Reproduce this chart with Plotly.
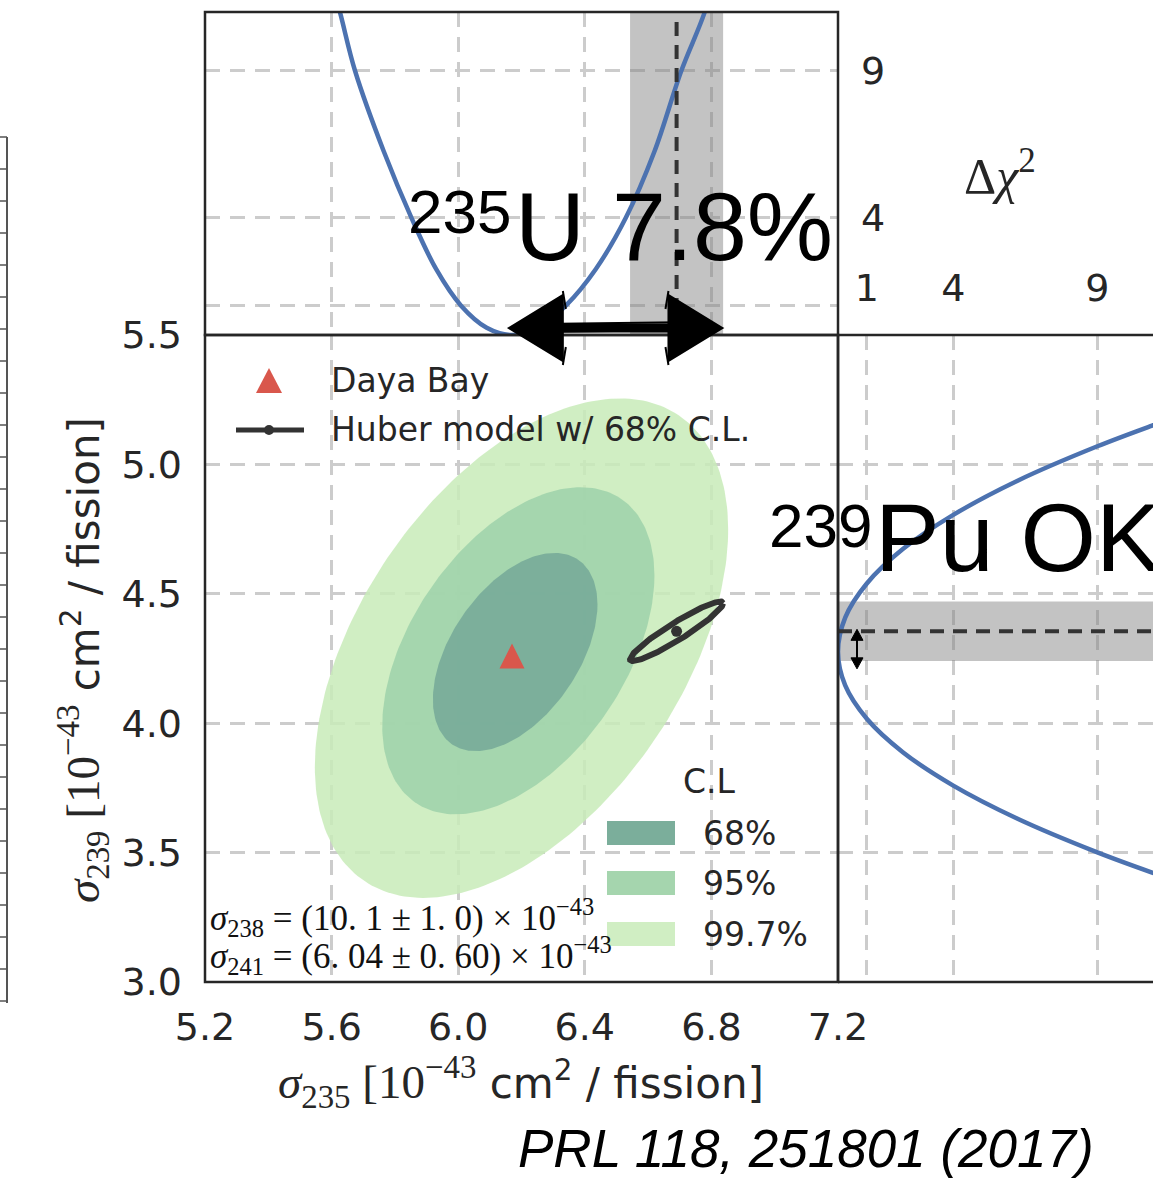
import numpy as np
import plotly.graph_objects as go

W, H = 1153, 1178

# ---------------- data (10^-43 cm^2 / fission) ----------------
# Daya Bay best fit
daya_bay_sigma235 = [6.17]
daya_bay_sigma239 = [4.26]

# Daya Bay confidence-level regions, each described as an ellipse
cl_labels = ["68%", "95%", "99.7%"]
cl_center235 = [6.18, 6.19, 6.20]
cl_center239 = [4.275, 4.28, 4.29]
cl_halfwidth235 = [0.26, 0.43, 0.653]
cl_halfwidth239 = [0.383, 0.632, 0.965]
cl_correlation = [0.48, 0.46, 0.475]

# Huber model prediction with its 68% C.L. ellipse
huber_sigma235 = [6.69]
huber_sigma239 = [4.355]
huber_halfwidth235 = [0.147]
huber_halfwidth239 = [0.115]
huber_correlation = [0.94]

# Delta chi^2 profile of sigma_235 (top panel)
u235_sigma = [5.594, 5.627, 5.674, 5.765, 5.852, 5.930, 6.009, 6.090, 6.170,
              6.255, 6.340, 6.435, 6.530, 6.620, 6.705, 6.778, 6.811]
u235_dchi2 = [12.25, 10.97, 9.00, 6.25, 4.00, 2.25, 1.00, 0.25, 0.00,
              0.25, 1.00, 2.25, 4.00, 6.25, 9.00, 10.97, 12.25]

# Delta chi^2 profile of sigma_239 (right panel)
pu239_sigma = [3.372, 3.423, 3.501, 3.630, 3.759, 3.888, 4.017, 4.146, 4.275,
               4.408, 4.540, 4.673, 4.805, 4.938, 5.070, 5.150, 5.203]
pu239_dchi2 = [12.25, 10.90, 9.00, 6.25, 4.00, 2.25, 1.00, 0.25, 0.00,
               0.25, 1.00, 2.25, 4.00, 6.25, 9.00, 10.90, 12.25]

# axis ticks
x_ticks = [5.2, 5.6, 6.0, 6.4, 6.8, 7.2]
y_ticks = [3.0, 3.5, 4.0, 4.5, 5.0, 5.5]
dchi2_ticks = [1, 4, 9]
dchi2_max = 11.0
dchi2_max_right = 10.93

# ---------------- styling ----------------
cl_fill = ["rgba(116,168,152,0.85)", "rgba(157,209,170,0.85)", "rgba(200,235,184,0.85)"]
cl_swatch = ["#7bae9b", "#a5d5ae", "#d0eec3"]
BLUE = "#4c72b0"
DARK = "#333333"
TXT = "#262626"
GRID = "#cccccc"
BAND = "rgba(128,128,128,0.47)"
SANS = "DejaVu Sans"
HELV = "Liberation Sans"
SERIF = "Liberation Serif"

# panel edges in pixels
PL, PR, PT, PB, TT = 205, 838, 335, 982, 12


def fx(p):
    return p / W


def fy(p):
    return 1 - p / H


def x_main_px(v):
    return PL + (v - x_ticks[0]) * (PR - PL) / (x_ticks[-1] - x_ticks[0])


def y_main_px(v):
    return PT + (y_ticks[-1] - v) * (PB - PT) / (y_ticks[-1] - y_ticks[0])


def ellipse(cx, cy, hx, hy, rho, n=241):
    t = np.linspace(0, 2 * np.pi, n)
    ex = cx + hx * np.cos(t)
    ey = cy + hy * (rho * np.cos(t) + np.sqrt(1 - rho ** 2) * np.sin(t))
    return ex, ey


fig = go.Figure()

# ---- main panel: confidence regions, widest first ----
for i in (2, 1, 0):
    ex, ey = ellipse(cl_center235[i], cl_center239[i], cl_halfwidth235[i],
                     cl_halfwidth239[i], cl_correlation[i])
    fig.add_trace(go.Scatter(x=ex, y=ey, mode="lines", fill="toself",
                             fillcolor=cl_fill[i], line=dict(width=0),
                             hoverinfo="skip", name=cl_labels[i]))

hx, hy = ellipse(huber_sigma235[0], huber_sigma239[0], huber_halfwidth235[0],
                 huber_halfwidth239[0], huber_correlation[0])
fig.add_trace(go.Scatter(x=hx, y=hy, mode="lines", line=dict(color=DARK, width=6),
                         hoverinfo="skip"))
fig.add_trace(go.Scatter(x=huber_sigma235, y=huber_sigma239, mode="markers",
                         marker=dict(color=DARK, size=11), hoverinfo="skip"))
fig.add_trace(go.Scatter(x=daya_bay_sigma235, y=daya_bay_sigma239, mode="markers",
                         marker=dict(symbol="arrow-down", angle=180, size=25, color="#d9574c",
                                     standoff=12.5, line=dict(width=0)),
                         hoverinfo="skip"))

# ---- top panel: sigma_235 profile ----
b_lo = huber_sigma235[0] - huber_halfwidth235[0]
b_hi = huber_sigma235[0] + huber_halfwidth235[0]
fig.add_trace(go.Scatter(x=[b_lo, b_hi, b_hi, b_lo], y=[0, 0, dchi2_max, dchi2_max],
                         xaxis="x2", yaxis="y2", mode="lines", fill="toself",
                         fillcolor=BAND, line=dict(width=0), hoverinfo="skip"))
fig.add_trace(go.Scatter(x=u235_sigma, y=u235_dchi2, xaxis="x2", yaxis="y2",
                         mode="lines", line=dict(color=BLUE, width=4.5, shape="spline"),
                         hoverinfo="skip"))
fig.add_trace(go.Scatter(x=huber_sigma235 * 2, y=[0, dchi2_max], xaxis="x2", yaxis="y2",
                         mode="lines", line=dict(color=DARK, width=4, dash="14px,9px"),
                         hoverinfo="skip"))

# ---- right panel: sigma_239 profile ----
c_lo = huber_sigma239[0] - huber_halfwidth239[0]
c_hi = huber_sigma239[0] + huber_halfwidth239[0]
fig.add_trace(go.Scatter(x=[0, dchi2_max_right, dchi2_max_right, 0], y=[c_lo, c_lo, c_hi, c_hi],
                         xaxis="x3", yaxis="y3", mode="lines", fill="toself",
                         fillcolor=BAND, line=dict(width=0), hoverinfo="skip"))
fig.add_trace(go.Scatter(x=pu239_dchi2, y=pu239_sigma, xaxis="x3", yaxis="y3",
                         mode="lines", line=dict(color=BLUE, width=4.5, shape="spline"),
                         hoverinfo="skip"))
fig.add_trace(go.Scatter(x=[0, dchi2_max_right], y=huber_sigma239 * 2, xaxis="x3", yaxis="y3",
                         mode="lines", line=dict(color=DARK, width=4, dash="14px,9px"),
                         hoverinfo="skip"))

# ---------------- axes ----------------
tick_font = dict(family=SANS, size=38, color=TXT)
grid = dict(showgrid=True, gridcolor=GRID, gridwidth=2.5, griddash="15px,10px",
            zeroline=False, showline=False, ticks="", tickfont=tick_font,
            automargin=False)

X0, X1 = fx(PL), fx(PR)
Y0, Y1, Y2 = fy(PB), fy(PT), fy(TT)

fig.update_layout(
    width=W, height=H, margin=dict(l=0, r=0, t=0, b=0, pad=0, autoexpand=False),
    paper_bgcolor="white", plot_bgcolor="white", showlegend=False,
    xaxis=dict(domain=[X0, X1], range=[x_ticks[0], x_ticks[-1]], anchor="y",
               tickvals=x_ticks, ticktext=[f"{v:.1f}" for v in x_ticks],
               ticklabelstandoff=19, **grid),
    yaxis=dict(domain=[Y0, Y1], range=[y_ticks[0], y_ticks[-1]], anchor="x",
               tickvals=y_ticks, ticktext=[f"{v:.1f}" for v in y_ticks],
               ticklabelstandoff=22, **grid),
    xaxis2=dict(domain=[X0, X1], matches="x", anchor="y2", tickvals=x_ticks,
                showticklabels=False, **grid),
    yaxis2=dict(domain=[Y1, Y2], range=[0, dchi2_max], anchor="x2", side="right",
                tickvals=dchi2_ticks, ticktext=["", "4", "9"],
                ticklabelstandoff=22, **grid),
    xaxis3=dict(domain=[X1, 1.0], range=[0, dchi2_max_right], anchor="y3", side="top",
                tickvals=dchi2_ticks, ticktext=[str(v) for v in dchi2_ticks],
                ticklabelstandoff=25, **grid),
    yaxis3=dict(domain=[Y0, Y1], matches="y", anchor="x3", tickvals=y_ticks,
                showticklabels=False, **grid),
)

# ---------------- frames, arrows, legend glyphs ----------------
shapes = []
frame = dict(color=TXT, width=2.5)
for xr, yr in (("x domain", "y domain"), ("x2 domain", "y2 domain")):
    shapes.append(dict(type="rect", xref=xr, yref=yr, x0=0, x1=1, y0=0, y1=1,
                       line=frame, layer="above"))
for (a0, b0, a1, b1) in ((0, 0, 0, 1), (0, 1, 1, 1), (0, 0, 1, 0)):
    shapes.append(dict(type="line", xref="x3 domain", yref="y3 domain",
                       x0=a0, y0=b0, x1=a1, y1=b1, line=frame, layer="above"))


def ppath(points):
    return "M " + " L ".join(f"{fx(a):.5f},{fy(b):.5f}" for a, b in points) + " Z"


# hand-drawn double arrow between Daya Bay and Huber sigma_235
tip_l, tip_r, ay = x_main_px(6.16), x_main_px(6.835), 328
head_len, head_half = 54, 33
shapes.append(dict(type="line", xref="paper", yref="paper",
                   x0=fx(tip_l + 20), y0=fy(ay), x1=fx(tip_r - 20), y1=fy(ay),
                   line=dict(color="black", width=9), layer="above"))
for dy, dx0, dx1 in ((-4, 30, -24), (4, 26, -30), (1, 40, -40)):
    shapes.append(dict(type="line", xref="paper", yref="paper",
                       x0=fx(tip_l + dx0), y0=fy(ay + dy), x1=fx(tip_r + dx1), y1=fy(ay + dy - 2),
                       line=dict(color="black", width=2), layer="above"))
for tip, sgn in ((tip_l, 1), (tip_r, -1)):
    base = tip + sgn * head_len
    shapes.append(dict(type="path", xref="paper", yref="paper",
                       path=ppath([(tip, ay), (base, ay - head_half), (base, ay + head_half)]),
                       fillcolor="black", line=dict(color="black", width=2), layer="above"))
    for k in (-1, 1):
        shapes.append(dict(type="line", xref="paper", yref="paper",
                           x0=fx(base), y0=fy(ay + k * (head_half + 4)),
                           x1=fx(base + sgn * 3), y1=fy(ay + k * (head_half - 14)),
                           line=dict(color="black", width=2), layer="above"))

# small double arrow in the sigma_239 panel
sx = 857
top_tip, bot_tip = y_main_px(huber_sigma239[0]) - 2, y_main_px(4.21)
shapes.append(dict(type="line", xref="paper", yref="paper", x0=fx(sx), y0=fy(top_tip + 8),
                   x1=fx(sx), y1=fy(bot_tip - 8), line=dict(color="black", width=2),
                   layer="above"))
for tip, sgn in ((top_tip, 1), (bot_tip, -1)):
    base = tip + sgn * 11
    shapes.append(dict(type="path", xref="paper", yref="paper",
                       path=ppath([(sx, tip), (sx - 6, base), (sx + 6, base)]),
                       fillcolor="black", line=dict(color="black", width=1), layer="above"))

# legend glyphs
shapes.append(dict(type="path", xref="paper", yref="paper",
                   path=ppath([(269, 368), (256, 393), (282, 393)]),
                   fillcolor="#d9574c", line=dict(width=0), layer="above"))
shapes.append(dict(type="line", xref="paper", yref="paper", x0=fx(236), y0=fy(430),
                   x1=fx(304), y1=fy(430), line=dict(color=DARK, width=5), layer="above"))
shapes.append(dict(type="circle", xref="paper", yref="paper", x0=fx(264), x1=fx(274),
                   y0=fy(425), y1=fy(435), fillcolor=DARK, line=dict(width=0), layer="above"))
for i, (y_top, y_bot) in enumerate(((821, 845), (871, 895), (922, 946))):
    shapes.append(dict(type="rect", xref="paper", yref="paper", x0=fx(607), x1=fx(675),
                       y0=fy(y_bot), y1=fy(y_top), fillcolor=cl_swatch[i],
                       line=dict(width=0), layer="above"))

# fragment of the neighbouring frame at the left edge
shapes.append(dict(type="line", xref="paper", yref="paper", x0=fx(7), x1=fx(7),
                   y0=fy(137), y1=fy(1003), line=dict(color="#555555", width=2)))
for k in range(28):
    yk = 137 + 32 * k
    shapes.append(dict(type="line", xref="paper", yref="paper", x0=fx(0), x1=fx(7),
                       y0=fy(yk), y1=fy(yk), line=dict(color="#555555", width=1.5)))

fig.update_layout(shapes=shapes)

# ---------------- text ----------------
ann = []


def text(s, x, y, size, family=SANS, color=TXT, xanchor="left", angle=0):
    ann.append(dict(text=s, x=fx(x), y=fy(y), xref="paper", yref="paper",
                    xanchor=xanchor, yanchor="middle", showarrow=False, textangle=angle,
                    font=dict(family=family, size=size, color=color)))


# legends
text("Daya Bay", 329, 380.5, 33)
text("Huber model w/ 68% C.L.", 329, 429.5, 33)
text("C.L", 681, 781.5, 33)
for lbl, yb in zip(cl_labels, (845, 895, 946)):
    text(lbl, 701, yb - 11.5, 33)

# axis titles
serif = f'<span style="font-family:{SERIF};font-size:47px">'
text(f"{serif}<i>σ</i><sub>235</sub> [10<sup>−43</sup></span> cm<sup>2</sup> / fission]",
     521, 1082, 42, xanchor="center")
text(f"{serif}<i>σ</i><sub>239</sub> [10<sup>−43</sup></span> cm<sup>2</sup> / fission]",
     83, 660, 42, xanchor="center", angle=-90)
text("Δ<i>χ</i><sup>2</sup>", 1000, 172, 50, family=SERIF, xanchor="center")

# fixed cross sections of the other isotopes
text("<i>σ</i><sub>238</sub> = (10. 1 ± 1. 0) × 10<sup>−43</sup>", 208, 917, 35, family=SERIF, color="#111111")
text("<i>σ</i><sub>241</sub> = (6. 04 ± 0. 60) × 10<sup>−43</sup>", 208, 955, 35, family=SERIF, color="#111111")

# headline labels
text("235", 406, 211.5, 62, family=HELV, color="black")
text("U 7.8%", 513, 226.5, 97, family=HELV, color="black")
text("239", 767, 525.5, 62, family=HELV, color="black")
text("Pu OK", 873, 537.5, 97, family=HELV, color="black")

# reference
ann.append(dict(text="<i>PRL 118, 251801 (2017)</i>", x=fx(806), y=fy(1148), xref="paper",
                yref="paper", xanchor="center", yanchor="middle", showarrow=False,
                font=dict(family=HELV, size=53, color="black")))

fig.update_layout(annotations=ann)

fig.write_html("out.html")
